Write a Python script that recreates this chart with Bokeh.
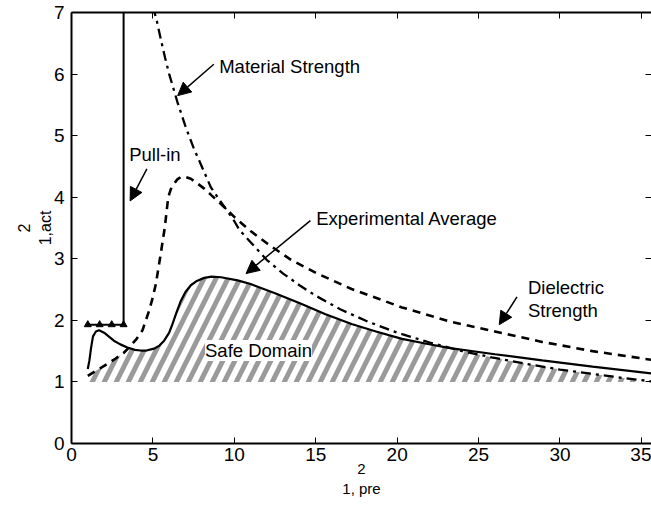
import numpy as np
from bokeh.plotting import figure
from bokeh.models import LinearAxis, Label, Arrow, NormalHead, FixedTicker, Range1d
from bokeh.embed import file_html
from bokeh.resources import INLINE

# ---- data ----
x_ticks = [0, 5, 10, 15, 20, 25, 30, 35]
y_ticks = [0, 1, 2, 3, 4, 5, 6, 7]

# Experimental average (solid)
x_exp = [1.0, 1.1, 1.2, 1.32, 1.5, 1.69, 2.0, 2.6, 3.0, 3.43, 3.9, 4.25, 4.6, 5.07, 5.4,
         5.69, 6.0, 6.2, 6.45, 6.72, 7.0, 7.33, 7.7, 8.15, 8.6, 9.18, 10.2, 11.0, 12.5,
         14.1, 15.6, 17.2, 18.7, 20.3, 21.8, 23.25, 26.0, 28.9, 32.0, 35.6]
y_exp = [1.21, 1.35, 1.55, 1.74, 1.82, 1.84, 1.80, 1.67, 1.61, 1.56, 1.52, 1.51, 1.51,
         1.54, 1.59, 1.67, 1.80, 1.94, 2.13, 2.32, 2.46, 2.57, 2.64, 2.69, 2.71, 2.70,
         2.65, 2.59, 2.44, 2.27, 2.10, 1.94, 1.82, 1.70, 1.62, 1.55, 1.45, 1.35, 1.25, 1.14]

# Dielectric strength (dashed)
x_diel = [1.0, 1.5, 2.0, 2.71, 3.2, 3.64, 4.0, 4.36, 4.77, 5.0, 5.18, 5.48, 5.73, 5.94,
          6.1, 6.3, 6.5, 6.72, 7.0, 7.33, 7.7, 8.15, 8.6, 9.18, 10.0, 11.0, 12.06, 13.5,
          15.1, 17.2, 20.3, 23.25, 26.0, 28.9, 32.0, 35.6]
y_diel = [1.10, 1.18, 1.26, 1.38, 1.47, 1.59, 1.70, 1.84, 2.16, 2.38, 2.59, 3.08, 3.51,
          4.00, 4.13, 4.22, 4.29, 4.33, 4.33, 4.30, 4.23, 4.14, 4.03, 3.89, 3.68, 3.45,
          3.24, 2.98, 2.76, 2.51, 2.21, 1.98, 1.82, 1.65, 1.50, 1.36]

# Material strength (dash-dot)
x_mat = [5.0, 5.25, 5.5, 5.75, 6.0, 6.5, 7.0, 7.5, 8.0, 8.56, 9.0, 9.59, 10.0, 10.31,
         11.0, 12.0, 13.0, 14.0, 15.0, 16.5, 18.2, 20.0, 22.0, 24.0, 25.8, 28.0, 30.0,
         32.0, 34.0, 35.6]
y_mat = [7.10, 6.85, 6.55, 6.26, 6.00, 5.55, 5.15, 4.80, 4.50, 4.16, 3.99, 3.77, 3.61,
         3.47, 3.27, 2.98, 2.76, 2.57, 2.40, 2.18, 1.98, 1.80, 1.64, 1.50, 1.40, 1.29,
         1.20, 1.13, 1.06, 1.01]

# Pull-in
x_pull = [1.0, 1.73, 2.47, 3.2]
y_pull = [1.93, 1.93, 1.93, 1.93]
x_pull_v = [3.2, 3.2]
y_pull_v = [1.93, 7.0]

safe_start, safe_end, safe_floor = 1.0, 35.0, 1.0

FONT = "Liberation Sans"

p = figure(width=651, height=512, x_range=Range1d(0, 35.62), y_range=Range1d(0, 7),
           output_backend="svg", toolbar_location=None,
           min_border_left=71, min_border_right=0, min_border_top=12, min_border_bottom=69)
p.grid.visible = False
p.outline_line_color = None
p.background_fill_color = "white"
p.border_fill_color = "white"

def style_axis(ax, labels=True, line=True, ticks=True):
    ax.axis_line_color = "black" if line else None
    ax.axis_line_width = 2
    ax.major_tick_in = 6 if ticks else 0
    ax.major_tick_out = 0
    ax.major_tick_line_width = 1
    ax.major_tick_line_color = "black" if ticks else None
    ax.minor_tick_line_color = None
    ax.major_label_text_font = FONT
    ax.major_label_text_color = "black"
    ax.axis_label_text_font = FONT
    ax.axis_label_text_font_style = "normal"
    ax.axis_label_text_color = "black"
    if labels:
        ax.major_label_text_font_size = "19px"
    else:
        ax.major_label_text_font_size = "0px"
        ax.major_label_standoff = 0

p.xaxis.ticker = FixedTicker(ticks=x_ticks)
p.yaxis.ticker = FixedTicker(ticks=y_ticks)
xa = p.xaxis[0]
ya = p.yaxis[0]
style_axis(xa)
style_axis(ya)
xa.major_label_standoff = 4
ya.major_label_standoff = 7

# axis titles: superscript on one axis, subscript on an outer blank axis
xa.axis_label = "2"
xa.axis_label_text_font_size = "15px"
xa.axis_label_standoff = 0
x_outer = LinearAxis(ticker=FixedTicker(ticks=[]), axis_label="1, pre")
style_axis(x_outer, labels=False, line=False, ticks=False)
x_outer.axis_label_text_font_size = "15px"
x_outer.axis_label_standoff = 3
p.add_layout(x_outer, "below")

ya.axis_label = "1,act"
ya.axis_label_text_font_size = "16px"
ya.axis_label_standoff = -3
y_outer = LinearAxis(ticker=FixedTicker(ticks=[]), axis_label="2")
style_axis(y_outer, labels=False, line=False, ticks=False)
y_outer.axis_label_text_font_size = "16px"
y_outer.axis_label_standoff = 4
p.add_layout(y_outer, "left")

top = LinearAxis(ticker=FixedTicker(ticks=x_ticks))
style_axis(top, labels=False)
top.major_label_overrides = {t: "" for t in x_ticks}
p.add_layout(top, "above")
right = LinearAxis(ticker=FixedTicker(ticks=y_ticks))
style_axis(right, labels=False, line=False)
right.major_label_overrides = {t: "" for t in y_ticks}
p.add_layout(right, "right")

# safe domain hatch: below the lowest of the three curves
xs = np.array(sorted(set([v for v in x_exp + x_diel + x_mat if safe_start <= v <= safe_end]
                         + [safe_start, safe_end])))
upper = np.minimum(np.interp(xs, x_exp, y_exp), np.interp(xs, x_diel, y_diel))
upper = np.minimum(upper, np.interp(xs, x_mat, y_mat, left=np.inf))
p.varea(x=xs, y1=np.full_like(xs, safe_floor), y2=upper, fill_color=None, fill_alpha=0,
        hatch_pattern="/", hatch_color="#9a9a9a", hatch_weight=5, hatch_scale=24)

p.line(x_exp, y_exp, line_color="black", line_width=2.2)
p.line(x_diel, y_diel, line_color="black", line_width=2.6, line_dash="8 6")
p.line(x_mat, y_mat, line_color="black", line_width=2.3, line_dash="10 5 3 5")
p.line(x_pull, y_pull, line_color="black", line_width=2)
p.line(x_pull_v, y_pull_v, line_color="black", line_width=2)
p.scatter(x_pull, y_pull, marker="triangle", size=7, fill_color="black", line_color="black")

def label(x, y, text, align="left", size="18.5px", bg=None):
    lb = Label(x=x, y=y, text=text, text_font=FONT, text_font_size=size,
               text_align=align, text_baseline="middle", text_color="black")
    if bg:
        lb.background_fill_color = bg
    p.add_layout(lb)

def arrow(x0, y0, x1, y1):
    p.add_layout(Arrow(end=NormalHead(size=13, fill_color="black", line_color="black"),
                       x_start=x0, y_start=y0, x_end=x1, y_end=y1,
                       line_color="black", line_width=1.5))

label(9.07, 6.12, "Material Strength")
arrow(8.74, 6.16, 6.52, 5.65)
label(3.54, 4.69, "Pull-in")
arrow(4.63, 4.46, 3.6, 3.94)
label(15.03, 3.65, "Experimental Average")
arrow(14.67, 3.62, 10.72, 2.76)
label(28.03, 2.54, "Dielectric")
label(28.03, 2.16, "Strength")
arrow(27.36, 2.38, 26.27, 1.93)
label(8.2, 1.51, "Safe Domain", bg="white")

open("out.html", "w").write(file_html(p, INLINE))
